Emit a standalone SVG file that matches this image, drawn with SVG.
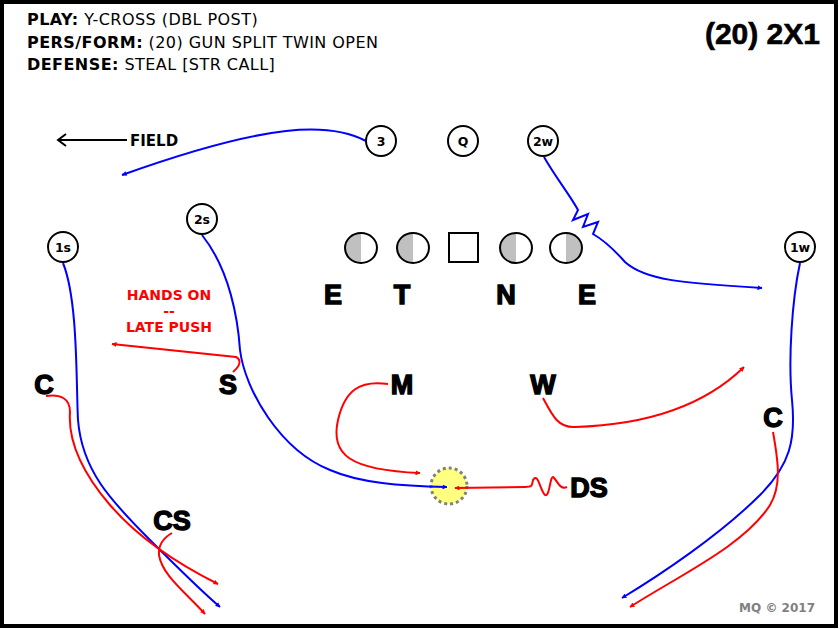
<svg xmlns="http://www.w3.org/2000/svg" width="840" height="629" viewBox="0 0 840 629">
<defs>
<style>
.hdr{font-family:"DejaVu Sans",Verdana,sans-serif;font-size:16px;letter-spacing:0.45px;fill:#000}
.hdr .b{font-weight:bold}
.node circle{fill:#fff;stroke:#000;stroke-width:2}
.node text{font-family:"DejaVu Sans",Verdana,sans-serif;font-size:12.5px;font-weight:bold;text-anchor:middle;fill:#000}
.def text{font-family:"Liberation Sans",Arial,sans-serif;font-size:27px;font-weight:900;fill:#000;text-anchor:middle;stroke:#000;stroke-width:1.4}
.dl{fill:none;stroke:#000;stroke-width:2}
.blue{fill:none;stroke:#0000ff;stroke-width:2}
.red{fill:none;stroke:#ff0000;stroke-width:2}
</style>
<marker id="ab" viewBox="0 0 10 10" refX="9" refY="5" markerWidth="5" markerHeight="5" orient="auto" markerUnits="userSpaceOnUse"><path d="M0,0 L10,5 L0,10 z" fill="#0000ff"/></marker>
<marker id="ar" viewBox="0 0 10 10" refX="9" refY="5" markerWidth="5" markerHeight="5" orient="auto" markerUnits="userSpaceOnUse"><path d="M0,0 L10,5 L0,10 z" fill="#ff0000"/></marker>
</defs>
<rect x="2" y="2" width="834" height="624" fill="#fff" stroke="#000" stroke-width="4"/>
<g id="header" class="hdr">
<text x="27" y="25"><tspan class="b">PLAY:</tspan> Y-CROSS (DBL POST)</text>
<text x="27" y="48"><tspan class="b">PERS/FORM:</tspan> (20) GUN SPLIT TWIN OPEN</text>
<text x="27" y="70"><tspan class="b">DEFENSE:</tspan> STEAL [STR CALL]</text>
</g>
<text x="820" y="44" text-anchor="end" font-family="Liberation Sans, Arial, sans-serif" font-size="30" font-weight="bold" stroke="#000" stroke-width="0.6">(20) 2X1</text>
<g id="field">
<line x1="58" y1="140" x2="127" y2="140" stroke="#000" stroke-width="2"/>
<path d="M66,134 L58,140 L66,146" fill="none" stroke="#000" stroke-width="2"/>
<text x="130" y="146" font-family="DejaVu Sans, Verdana, sans-serif" font-size="15" font-weight="bold">FIELD</text>
</g>
<g id="ball"><circle cx="449" cy="486" r="18" fill="#ffff80" stroke="#808080" stroke-width="3" stroke-dasharray="3 3"/></g>
<g id="connectors">
<path class="blue" marker-end="url(#ab)" d="M366,141 C330,122 270,122 122,175"/>
<path class="blue" marker-end="url(#ab)" d="M544,157 C556,178 570,195 578,210 L573,220 L588,214 L583,227 L598,222 L593,234 C600,238 610,245 625,262 C645,280 680,283 762,288"/>
<path class="blue" marker-end="url(#ab)" d="M202,235 C230,270 238,320 240,350 C245,390 280,450 330,470 C360,483 400,486 447,487"/>
<path class="blue" marker-end="url(#ab)" d="M63,263 C78,300 76,380 78,420 C82,470 110,500 150,540 C180,570 200,590 220,607"/>
<path class="blue" marker-end="url(#ab)" d="M800,263 C792,300 788,360 792,400 C796,440 790,465 760,495 C720,535 660,575 622,598"/>
<path class="red" marker-end="url(#ar)" d="M233,372 C240,366 242,360 236,357 L112,344"/>
<path class="red" marker-end="url(#ar)" d="M388,384 C360,380 345,390 338,420 C330,455 350,470 420,473"/>
<path class="red" marker-end="url(#ar)" d="M543,398 C552,415 558,428 575,427 C640,425 700,410 744,367"/>
<path class="red" marker-end="url(#ar)" d="M567,487 C560,490 558,482 554,478 C550,472 550,498 545,495 C540,490 538,472 533,480 C532,486 532,487 525,487 L455,488"/>
<path class="red" marker-end="url(#ar)" d="M46,396 C60,394 70,398 70,412 C68,440 80,470 110,505 C140,540 180,565 218,584"/>
<path class="red" marker-end="url(#ar)" d="M172,533 C165,537 158,543 159,555 C162,575 185,592 205,614"/>
<path class="red" marker-end="url(#ar)" d="M773,432 C778,460 782,485 770,505 C745,545 680,575 630,607"/>
</g>
<g id="n3" class="node"><circle cx="381" cy="141" r="15"/><text x="381" y="146">3</text></g>
<g id="nQ" class="node"><circle cx="463" cy="141" r="15"/><text x="463" y="146">Q</text></g>
<g id="n2w" class="node"><circle cx="543" cy="141" r="15"/><text x="543" y="146">2w</text></g>
<g id="n2s" class="node"><circle cx="202" cy="219" r="15"/><text x="202" y="224">2s</text></g>
<g id="n1s" class="node"><circle cx="63" cy="247" r="15"/><text x="63" y="252">1s</text></g>
<g id="n1w" class="node"><circle cx="800" cy="247" r="15"/><text x="800" y="252">1w</text></g>
<g id="ol1"><path d="M361,233 A16,15 0 0 0 361,263 z" fill="#c0c0c0"/><ellipse class="dl" cx="361" cy="248" rx="16" ry="15"/></g>
<g id="ol2"><path d="M413,233 A16,15 0 0 0 413,263 z" fill="#c0c0c0"/><ellipse class="dl" cx="413" cy="248" rx="16" ry="15"/></g>
<g id="center"><rect class="dl" x="449" y="233" width="29" height="29" fill="#fff"/></g>
<g id="ol4"><path d="M516,233 A16,15 0 0 0 516,263 z" fill="#c0c0c0"/><ellipse class="dl" cx="516" cy="248" rx="16" ry="15"/></g>
<g id="ol5"><path d="M566,233 A16,15 0 0 1 566,263 z" fill="#c0c0c0"/><ellipse class="dl" cx="566" cy="248" rx="16" ry="15"/></g>
<g class="def">
<g id="dE1"><text x="333" y="304">E</text></g>
<g id="dT"><text x="402" y="304">T</text></g>
<g id="dN"><text x="506" y="304">N</text></g>
<g id="dE2"><text x="587" y="304">E</text></g>
<g id="dC1"><text x="44" y="394">C</text></g>
<g id="dS"><text x="228" y="394">S</text></g>
<g id="dM"><text x="402" y="394">M</text></g>
<g id="dW"><text x="543" y="394">W</text></g>
<g id="dC2"><text x="773" y="427">C</text></g>
<g id="dDS"><text x="589" y="497">DS</text></g>
<g id="dCS"><text x="172" y="530">CS</text></g>
</g>
<g id="note" font-family="DejaVu Sans, Verdana, sans-serif" font-size="14" font-weight="bold" fill="#ff0000" text-anchor="middle">
<text x="169" y="300">HANDS ON</text>
<text x="169" y="316">--</text>
<text x="169" y="332">LATE PUSH</text>
</g>
<text x="815" y="612" text-anchor="end" font-family="DejaVu Sans, Verdana, sans-serif" font-size="12" font-weight="bold" fill="#808080">MQ © 2017</text>
</svg>
